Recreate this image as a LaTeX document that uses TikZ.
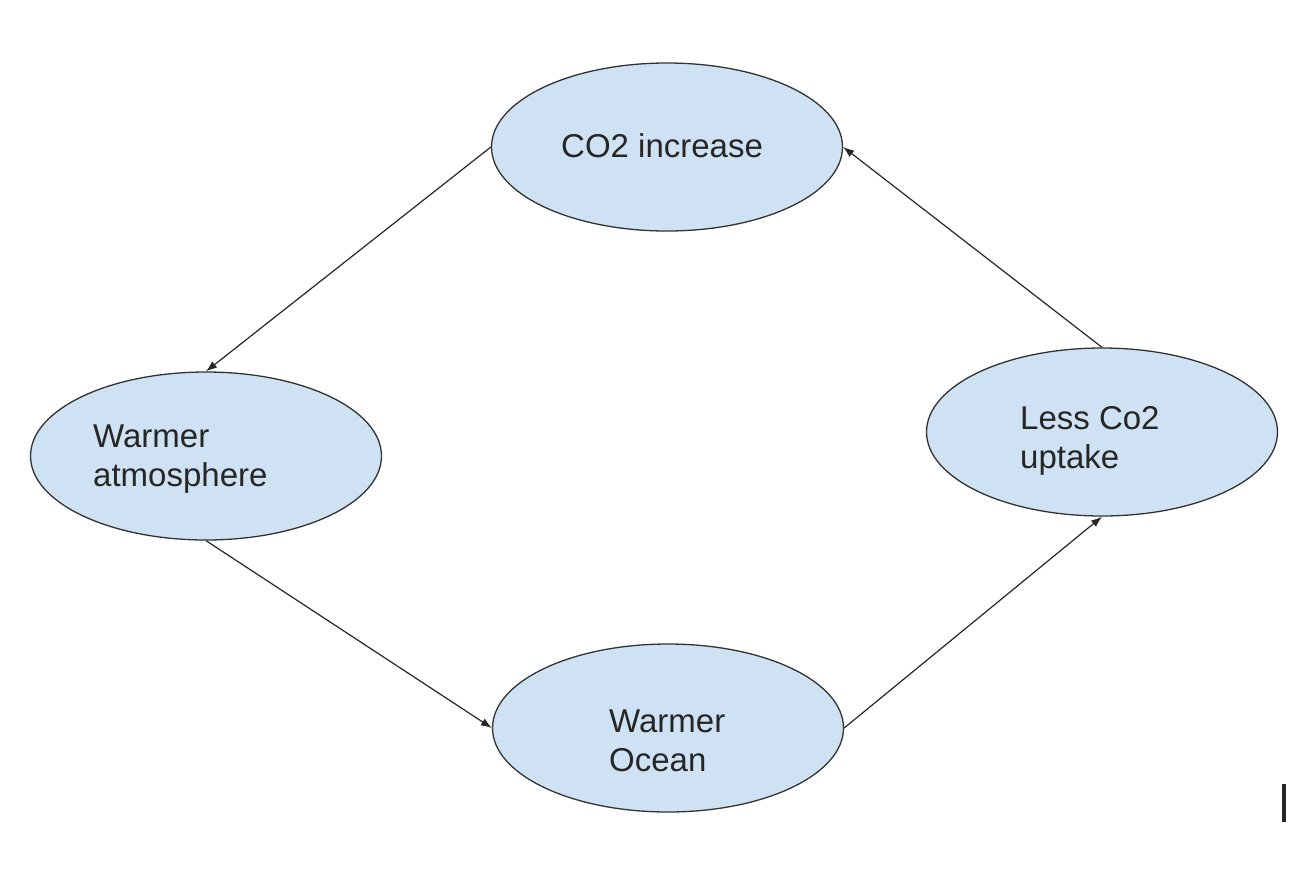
\documentclass[tikz,border=0pt]{standalone}
\usepackage{fontspec}
\setmainfont{Liberation Sans}
\usetikzlibrary{shapes.geometric,arrows.meta}
\definecolor{cyclefill}{HTML}{CFE2F3}
\definecolor{cycleline}{HTML}{333333}
\begin{document}
\begin{tikzpicture}
            [x=1pt,y=-1pt,
             blob/.style={ellipse,draw=cycleline,line width=1.3pt,fill=cyclefill,
                          minimum width=351pt,minimum height=168pt,inner sep=0pt},
             lbl/.style={anchor=base west,inner sep=0pt,align=left,
                         font=\fontsize{33}{39}\selectfont,text=black!85},
             link/.style={draw=black!85,line width=1.2pt,-{Latex[length=11pt,width=8pt]}}]
            \useasboundingbox (0,0) rectangle (1306,868);

            \node[blob] (co2)   at ( 667,147) {};
            \node[blob] (atm)   at ( 206,456) {};
            \node[blob] (ocean) at ( 668,728) {};
            \node[blob] (less)  at (1102,432) {};

            \node[lbl] (co2text)   at ( 561,157) {CO2 increase};
            \node[lbl] (atmtext)   at (  93,486) {Warmer\\atmosphere};
            \node[lbl] (oceantext) at ( 609,771) {Warmer\\Ocean};
            \node[lbl] (lesstext)  at (1020,468) {Less Co2\\uptake};

            \draw[link] (co2.west)   -- (atm.north);
            \draw[link] (atm.south)  -- (ocean.west);
            \draw[link] (ocean.east) -- (less.south);
            \draw[link] (less.north) -- (co2.east);

            \coordinate (bartop) at (1284,784);
            \coordinate (barbot) at (1284,822);
            \draw[line width=4pt,black!85] (bartop) -- (barbot);
        \end{tikzpicture}
\end{document}
